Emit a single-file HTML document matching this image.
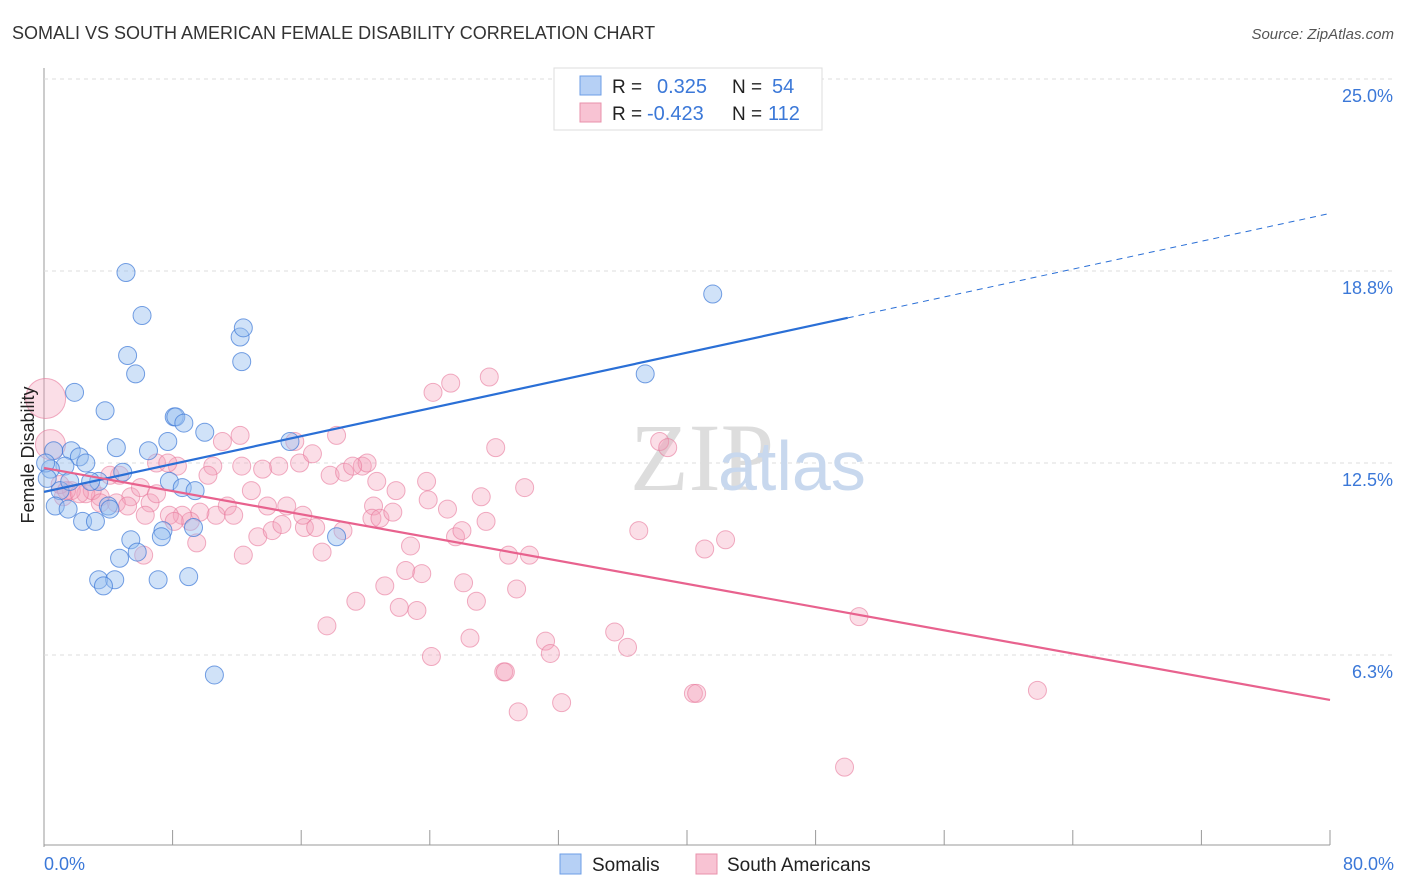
<!DOCTYPE html>
<html><head><meta charset="utf-8"><style>
body{margin:0;background:#fff;font-family:"Liberation Sans",sans-serif}
svg{display:block}
</style></head><body>
<svg id="chart" width="1406" height="892">
<text x="12" y="39" font-size="18" fill="#333">SOMALI VS SOUTH AMERICAN FEMALE DISABILITY CORRELATION CHART</text>
<text x="1394" y="39" font-size="15" fill="#555" font-style="italic" text-anchor="end">Source: ZipAtlas.com</text>
<g id="grid"></g>
<text x="630" y="490" font-size="96" fill="#ddd" font-family="Liberation Serif,serif">ZIP</text>
<text x="718" y="490" font-size="70" fill="#c8d8ee">atlas</text>
<g id="pts"></g>
<g id="lines"></g>
<text transform="translate(34,455) rotate(-90)" font-size="18" fill="#222" text-anchor="middle">Female Disability</text>
<text x="44" y="870" font-size="18" fill="#3b78d8">0.0%</text>
<text x="1394" y="870" font-size="18" fill="#3b78d8" text-anchor="end">80.0%</text>
<g>
<rect x="554" y="68" width="268" height="62" fill="#fff" stroke="#ddd"/>
<rect x="580" y="76" width="21" height="19" fill="#b6d0f5" stroke="#6c9ee6"/>
<rect x="580" y="103" width="21" height="19" fill="#f8c3d3" stroke="#e891ab"/>
<text x="612" y="93" font-size="19" fill="#222">R =</text><text x="657" y="93" font-size="20" fill="#3b78d8">0.325</text>
<text x="732" y="93" font-size="19" fill="#222">N =</text><text x="772" y="93" font-size="20" fill="#3b78d8">54</text>
<text x="612" y="120" font-size="19" fill="#222">R =</text><text x="647" y="120" font-size="20" fill="#3b78d8">-0.423</text>
<text x="732" y="120" font-size="19" fill="#222">N =</text><text x="768" y="120" font-size="20" fill="#3b78d8">112</text>
</g>
<g>
<rect x="560" y="854" width="21" height="20" fill="#b6d0f5" stroke="#6c9ee6"/>
<text x="592" y="871" font-size="19" fill="#222">Somalis</text>
<rect x="696" y="854" width="21" height="20" fill="#f8c3d3" stroke="#e891ab"/>
<text x="727" y="871" font-size="19" fill="#222">South Americans</text>
</g>
</svg>
<script>
const yTicks=[6.3,12.5,18.8,25.0];
const yTickLabels=["6.3%","12.5%","18.8%","25.0%"];
const xTicks=[0,8,16,24,32,40,48,56,64,72,80];
const somaliX=[5.1,6.1,5.2,5.7,12.2,12.4,12.3,1.9,3.8,8.1,8.2,8.7,10.0,7.7,4.5,6.5,15.3,0.6,1.7,2.2,2.6,1.3,0.4,3.4,2.9,1.0,7.8,8.6,9.4,0.7,1.5,4.0,2.4,3.2,7.4,9.3,7.3,18.2,5.4,5.8,4.7,3.4,4.4,3.7,7.1,9.0,10.6,41.6,37.4,4.9,1.6,0.1,0.2,4.1];
const somaliY=[18.7,17.3,16.0,15.4,16.6,16.9,15.8,14.8,14.2,14.0,14.0,13.8,13.5,13.2,13.0,12.9,13.2,12.9,12.9,12.7,12.5,12.4,12.3,11.9,11.9,11.6,11.9,11.7,11.6,11.1,11.0,11.1,10.6,10.6,10.3,10.4,10.1,10.1,10.0,9.6,9.4,8.7,8.7,8.5,8.7,8.8,5.6,18.0,15.4,12.2,11.9,12.5,12.0,11.0];
const saX=[0.1,0.4,24.2,25.3,27.7,18.2,11.1,15.6,7.0,8.3,10.5,12.3,13.6,14.6,15.9,16.7,17.8,18.7,19.8,20.1,20.7,21.9,23.8,27.2,28.1,29.9,38.3,38.8,4.7,10.2,12.9,13.9,15.1,11.4,10.7,11.8,9.7,9.1,8.6,7.8,6.6,5.4,4.5,3.5,2.6,1.7,1.2,4.1,3.0,6.0,7.0,6.3,8.1,9.5,13.3,14.2,14.8,16.2,16.9,18.6,17.3,12.4,16.1,20.5,20.4,20.9,21.7,22.8,25.1,25.6,26.0,27.5,28.9,30.2,37.0,41.1,42.4,21.2,22.5,23.5,19.4,22.1,23.2,26.1,26.9,29.4,17.6,26.5,31.2,31.5,35.5,36.3,24.1,28.6,28.7,29.5,32.2,40.4,40.6,50.7,61.8,49.8,6.2,1.0,1.4,2.2,3.5,5.2,12.2,7.7,19.2,23.9];
const saY=[14.6,13.1,14.8,15.1,15.3,13.4,13.2,13.2,12.5,12.4,12.4,12.4,12.3,12.4,12.5,12.8,12.1,12.2,12.4,12.5,11.9,11.6,11.9,11.4,13.0,11.7,13.2,13.0,12.1,12.1,11.6,11.1,11.1,11.1,10.8,10.8,10.9,10.6,10.8,10.8,11.2,11.4,11.2,11.4,11.5,11.6,11.4,12.1,11.6,11.7,11.5,10.8,10.6,9.9,10.1,10.3,10.5,10.4,10.4,10.3,9.6,9.5,10.8,11.1,10.7,10.7,10.9,9.8,11.0,10.1,10.3,10.6,9.5,9.5,10.3,9.7,10.0,8.5,9.0,8.9,8.0,7.8,7.7,8.6,8.0,8.4,7.2,6.8,6.7,6.3,7.0,6.5,6.2,5.7,5.7,4.4,4.7,5.0,5.0,7.5,5.1,2.6,9.5,11.8,11.6,11.5,11.2,11.1,13.4,12.5,12.4,11.3];
const saBig=[20,15];
const somaliTrend=[11.56,0.1133];
const saTrend=[12.34,-0.0944];
const X0=44,X1=1330,Y0=847,PX_PER=30.72;
const xs=v=>X0+v/80*(X1-X0);
const ys=v=>Y0-v*PX_PER;
const NS="http://www.w3.org/2000/svg";
function mk(tag,attrs,parent){const e=document.createElementNS(NS,tag);for(const k in attrs)e.setAttribute(k,attrs[k]);parent.appendChild(e);return e;}
const grid=document.getElementById('grid');
let ax=mk('line',{x1:X0,x2:X0,y1:68,y2:847,stroke:'#999'},grid);


let bx=mk('line',{x1:X0,x2:X1,y1:845,y2:845,stroke:'#999'},grid);


xTicks.forEach(t=>{let l=mk('line',{x1:xs(t),x2:xs(t),y1:830,y2:845,stroke:'#999'},grid);

});
yTicks.concat([25.0]).forEach((t,i)=>{});
const gridVals=[6.25,12.5,18.75,25];
gridVals.forEach((t,i)=>{let l=mk('line',{x1:X0,x2:1394,y1:ys(t),y2:ys(t),stroke:'#ddd','stroke-dasharray':'4,4'},grid);


let tx=mk('text',{x:1393,y:ys(t)+23,'font-size':18,fill:'#3b78d8','text-anchor':'end'},grid);tx.textContent=yTickLabels[i];

});
const pts=document.getElementById('pts');
saX.forEach((x,i)=>{const r=i<saBig.length?saBig[i]:9;let c=mk('circle',{cx:xs(x),cy:ys(saY[i]),r:r,fill:'rgba(244,160,185,0.35)',stroke:'rgba(232,120,155,0.6)','stroke-width':1},pts);

});
somaliX.forEach((x,i)=>{let c=mk('circle',{cx:xs(x),cy:ys(somaliY[i]),r:9,fill:'rgba(150,190,240,0.45)',stroke:'rgba(60,120,215,0.7)','stroke-width':1},pts);

});
const lines=document.getElementById('lines');
const f=(t,x)=>t[0]+t[1]*x;
let b1=mk('line',{x1:xs(0),y1:ys(f(somaliTrend,0)),x2:xs(50),y2:ys(f(somaliTrend,50)),stroke:'#2a6fd6','stroke-width':2.2},lines);


let b2=mk('line',{x1:xs(50),y1:ys(f(somaliTrend,50)),x2:xs(80),y2:ys(f(somaliTrend,80)),stroke:'#2a6fd6','stroke-width':1,'stroke-dasharray':'6,5'},lines);


let p1=mk('line',{x1:xs(0),y1:ys(f(saTrend,0)),x2:xs(80),y2:ys(f(saTrend,80)),stroke:'#e8628e','stroke-width':2.2},lines);


</script>
</body></html>
